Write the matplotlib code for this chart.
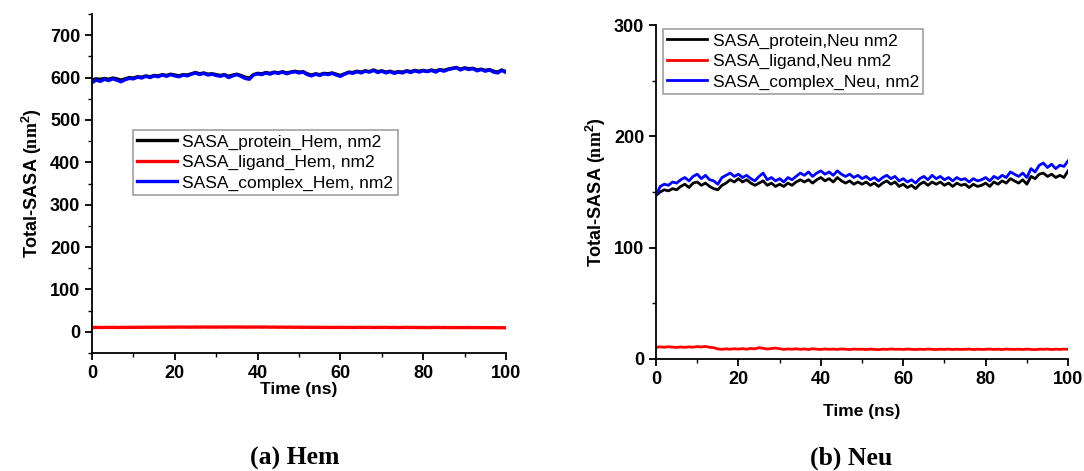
import numpy as np
import matplotlib
matplotlib.use('Agg')
import matplotlib.pyplot as plt
from matplotlib.ticker import MultipleLocator

plt.rcParams['font.family'] = ['Liberation Sans', 'DejaVu Sans']
plt.rcParams['mathtext.fontset'] = 'custom'
plt.rcParams['mathtext.rm'] = 'Liberation Serif'
plt.rcParams['mathtext.bf'] = 'Liberation Serif:bold'
plt.rcParams['mathtext.sf'] = 'Liberation Sans:bold'

# ---- data (one point per ns) ----
time_ns = list(range(0, 101))

protein_hem = [595, 597, 596, 598, 596, 599, 597, 594, 597, 600,
               599, 602, 601, 604, 602, 605, 604, 607, 605, 608,
               606, 604, 607, 606, 609, 612, 609, 611, 608, 609,
               607, 605, 607, 603, 606, 608, 605, 601, 599, 607,
               610, 609, 612, 610, 613, 611, 614, 611, 613, 615,
               613, 614, 609, 606, 609, 607, 610, 609, 611, 608,
               605, 609, 613, 612, 615, 613, 616, 614, 618, 614,
               616, 613, 615, 612, 614, 613, 616, 614, 617, 615,
               617, 615, 618, 615, 619, 617, 620, 622, 624, 620,
               623, 621, 622, 618, 620, 617, 619, 615, 613, 618,
               614]
ligand_hem = [10.2, 10.5, 10.1, 10.4, 10.3, 10.6, 10.2, 10.5, 10.4, 10.7,
              10.5, 10.8, 10.6, 10.9, 10.7, 11.0, 10.8, 11.1, 10.9, 11.2,
              11.0, 11.3, 11.1, 11.2, 11.0, 11.3, 11.1, 11.4, 11.2, 11.3,
              11.1, 11.4, 11.2, 11.3, 11.5, 11.2, 11.4, 11.1, 11.3, 11.2,
              11.4, 11.1, 11.3, 11.0, 11.2, 10.9, 11.1, 10.8, 11.0, 10.7,
              10.9, 10.6, 10.8, 10.5, 10.7, 10.4, 10.6, 10.3, 10.5, 10.4,
              10.6, 10.3, 10.5, 10.2, 10.4, 10.6, 10.3, 10.5, 10.2, 10.4,
              10.3, 10.5, 10.2, 10.4, 10.1, 10.3, 10.5, 10.2, 10.4, 10.1,
              10.3, 10.0, 10.2, 10.4, 10.1, 10.3, 10.0, 10.2, 9.9, 10.1,
              10.0, 10.2, 9.9, 10.1, 9.8, 10.0, 9.7, 9.9, 9.6, 9.8,
              9.5]
complex_hem = [588, 594, 591, 596, 593, 597, 594, 590, 595, 598,
               597, 601, 599, 603, 600, 604, 602, 606, 603, 607,
               604, 602, 606, 604, 608, 611, 607, 610, 606, 608,
               605, 603, 606, 600, 604, 607, 603, 598, 596, 606,
               609, 607, 611, 608, 612, 610, 613, 609, 612, 614,
               611, 613, 607, 604, 608, 605, 609, 607, 610, 606,
               603, 608, 612, 610, 614, 611, 615, 613, 617, 612,
               615, 611, 614, 610, 613, 611, 615, 612, 616, 613,
               616, 614, 617, 613, 618, 615, 619, 621, 623, 618,
               622, 619, 621, 616, 619, 615, 618, 613, 611, 617,
               612]

protein_neu = [147, 150, 152, 151, 153, 152, 155, 157, 154, 158,
               159, 156, 158, 155, 153, 152, 156, 158, 161, 159,
               162, 159, 161, 158, 156, 158, 160, 156, 158, 155,
               157, 155, 158, 156, 159, 161, 159, 161, 158, 161,
               163, 160, 162, 159, 163, 160, 158, 160, 157, 159,
               157, 159, 156, 158, 155, 158, 160, 157, 159, 155,
               157, 154, 156, 153, 157, 159, 156, 159, 157, 159,
               156, 158, 155, 158, 156, 157, 154, 157, 155, 156,
               158, 155, 159, 157, 160, 158, 162, 160, 158, 161,
               157, 164, 162, 166, 167, 164, 166, 163, 165, 163,
               169]
ligand_neu = [10.5, 10.9, 10.6, 11.0, 10.7, 10.4, 10.8, 10.5, 10.9, 10.6,
              11.2, 10.8, 11.3, 10.5, 10.2, 9.0, 8.7, 9.1, 8.8, 9.2,
              8.9, 9.3, 8.8, 9.5, 9.1, 10.2, 9.6, 9.0, 9.4, 9.8,
              9.2, 8.6, 9.0, 8.8, 9.1, 8.7, 9.0, 8.5, 9.2, 8.8,
              8.6, 9.0, 8.7, 8.9, 8.6, 9.0, 8.8, 8.5, 8.9, 8.7,
              8.8, 8.5, 8.9, 8.6, 8.4, 8.8, 8.6, 9.0, 8.7, 8.8,
              8.6, 8.9, 8.7, 8.5, 8.8, 8.6, 8.9, 8.7, 8.5, 8.8,
              8.6, 8.9, 8.5, 8.8, 8.6, 8.7, 8.9, 8.5, 8.8, 8.6,
              8.7, 8.9, 8.6, 8.8, 8.5, 8.9, 8.7, 8.6, 8.8, 8.5,
              8.9, 8.6, 8.4, 8.8, 8.7, 8.9, 8.5, 8.8, 8.6, 8.9,
              8.7]
complex_neu = [147, 155, 157, 156, 159, 158, 161, 163, 160, 164,
               166, 162, 165, 161, 160, 157, 163, 165, 167, 164,
               166, 163, 165, 162, 160, 164, 167, 161, 163, 160,
               162, 159, 163, 161, 164, 167, 165, 168, 164, 167,
               169, 166, 168, 165, 169, 166, 164, 166, 163, 165,
               162, 164, 161, 163, 160, 163, 165, 162, 164, 160,
               162, 159, 161, 158, 162, 164, 161, 165, 162, 164,
               161, 163, 160, 163, 161, 162, 159, 162, 160, 161,
               163, 160, 164, 162, 165, 163, 168, 166, 164, 167,
               163, 171, 168, 174, 176, 172, 175, 171, 174, 173,
               178]

labels_hem = ['SASA_protein_Hem, nm2', 'SASA_ligand_Hem, nm2', 'SASA_complex_Hem, nm2']
labels_neu = ['SASA_protein,Neu nm2', 'SASA_ligand,Neu nm2', 'SASA_complex_Neu, nm2']
colors = ['black', 'red', 'blue']


def style_axes(ax, ymin, ymax, ymajor):
    ax.set_xlim(0, 100)
    ax.set_ylim(ymin, ymax)
    ax.xaxis.set_major_locator(MultipleLocator(20))
    ax.xaxis.set_minor_locator(MultipleLocator(10))
    ax.yaxis.set_major_locator(MultipleLocator(ymajor))
    ax.yaxis.set_minor_locator(MultipleLocator(50))
    for s in ['top', 'right']:
        ax.spines[s].set_visible(False)
    for s in ['left', 'bottom']:
        ax.spines[s].set_linewidth(1.3)
    ax.tick_params(which='major', direction='out', length=5, width=1.3, labelsize=13)
    ax.tick_params(which='minor', direction='out', length=3, width=1.0)
    for lab in ax.get_xticklabels() + ax.get_yticklabels():
        lab.set_fontweight('bold')
    ax.set_ylabel(r'Total-SASA ($\mathbf{nm}^{\mathsf{2}}$)', fontsize=13, fontweight='bold')


fig = plt.figure(figsize=(10.84, 4.71), dpi=100)
ax1 = fig.add_axes([0.0849, 0.2505, 0.3819, 0.7197])
ax2 = fig.add_axes([0.6052, 0.2378, 0.3801, 0.7091])

# left panel: Hem
series_hem = [protein_hem, ligand_hem, complex_hem]
for vals, lab, c in zip(series_hem, labels_hem, colors):
    ax1.plot(time_ns, vals, color=c, lw=2.4, label=lab)
style_axes(ax1, -50, 750, 100)
ax1.set_xlabel('Time (ns)', fontsize=12.5, fontweight='bold', labelpad=0)
leg1 = ax1.legend(loc='upper left', bbox_to_anchor=(0.099, 0.658), borderaxespad=0,
                  fontsize=12.5, handlelength=2.3, handletextpad=0.3, labelspacing=0.3,
                  fancybox=False, framealpha=1, edgecolor='#a0a0a0', borderpad=0.25)
leg1.get_frame().set_linewidth(1.2)

# right panel: Neu
series_neu = [protein_neu, ligand_neu, complex_neu]
for vals, lab, c in zip(series_neu, labels_neu, colors):
    ax2.plot(time_ns, vals, color=c, lw=2.0, label=lab)
style_axes(ax2, 0, 300, 100)
ax2.set_xlabel('Time (ns)', fontsize=12.5, fontweight='bold', labelpad=12)
leg2 = ax2.legend(loc='upper left', bbox_to_anchor=(0.017, 0.988), borderaxespad=0,
                  fontsize=12.5, handlelength=2.3, handletextpad=0.3, labelspacing=0.3,
                  fancybox=False, framealpha=1, edgecolor='#a0a0a0', borderpad=0.25)
leg2.get_frame().set_linewidth(1.2)

# captions under each panel
fig.text(0.272, 0.026, '(a) Hem', family='Liberation Serif', fontweight='bold',
         fontsize=18.5, ha='center', va='center')
fig.text(0.785, 0.026, '(b) Neu', family='Liberation Serif', fontweight='bold',
         fontsize=18.5, ha='center', va='center')

fig.savefig('out.png', dpi=100)
